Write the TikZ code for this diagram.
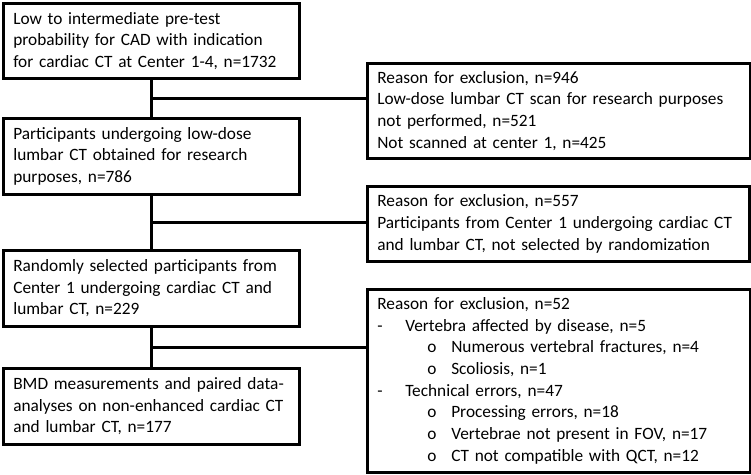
\documentclass[tikz,border=0pt]{standalone}
\usepackage{fontspec}
\setmainfont{Carlito}
\usetikzlibrary{calc}
\begin{document}
\begin{tikzpicture}[x=1pt,y=-1pt,
  every node/.style={font=\fontsize{17.3}{21.7}\selectfont},
  flowbox/.style={draw=black, line width=2.6pt, fill=white, anchor=north west,
    align=left, inner xsep=10pt, inner ysep=2pt},
  link/.style={draw=black, line width=2.6pt}]
\useasboundingbox (0,0) rectangle (751,474);
% main pathway (left column)
\node[flowbox, text width=276pt, minimum height=75pt] (b1) at (2,2)
  {Low to intermediate pre-test\\probability for CAD with indication\\for cardiac CT at Center 1-4, n=1732};
\node[flowbox, text width=276pt, minimum height=76pt] (b2) at (2,117)
  {Participants undergoing low-dose\\lumbar CT obtained for research\\purposes, n=786};
\node[flowbox, text width=276pt, minimum height=76pt] (b3) at (2,249)
  {Randomly selected participants from\\Center 1 undergoing cardiac CT and\\lumbar CT, n=229};
\node[flowbox, text width=276pt, minimum height=76pt] (b4) at (2,367)
  {BMD measurements and paired data-\\analyses on non-enhanced cardiac CT\\and lumbar CT, n=177};
% exclusion boxes (right column)
\node[flowbox, text width=363pt, minimum height=95pt] (e1) at (366,62)
  {Reason for exclusion, n=946\\Low-dose lumbar CT scan for research purposes\\not performed, n=521\\Not scanned at center 1, n=425};
\node[flowbox, text width=362pt, minimum height=75pt] (e2) at (366,185)
  {Reason for exclusion, n=557\\Participants from Center 1 undergoing cardiac CT\\and lumbar CT, not selected by randomization};
\node[flowbox, text width=363pt, minimum height=183pt] (e3) at (366,288)
  {Reason for exclusion, n=52\\
   \makebox[28pt][l]{-}Vertebra affected by disease, n=5\\
   \hspace*{50pt}\makebox[24pt][l]{o}Numerous vertebral fractures, n=4\\
   \hspace*{50pt}\makebox[24pt][l]{o}Scoliosis, n=1\\
   \makebox[28pt][l]{-}Technical errors, n=47\\
   \hspace*{50pt}\makebox[24pt][l]{o}Processing errors, n=18\\
   \hspace*{50pt}\makebox[24pt][l]{o}Vertebrae not present in FOV, n=17\\
   \hspace*{50pt}\makebox[24pt][l]{o}CT not compatible with QCT, n=12};
% junctions halfway between consecutive boxes
\coordinate (j1) at ($(b1.south)!0.5!(b2.north)$);
\coordinate (j2) at ($(b2.south)!0.5!(b3.north)$);
\coordinate (j3) at ($(b3.south)!0.5!(b4.north)$);
% connectors
\draw[link] (b1.south) -- (b2.north);
\draw[link] (b2.south) -- (b3.north);
\draw[link] (b3.south) -- (b4.north);
\draw[link] (j1) -- (j1 -| e1.west);
\draw[link] (j2) -- (j2 -| e2.west);
\draw[link] (j3) -- (j3 -| e3.west);
\end{tikzpicture}
\end{document}
